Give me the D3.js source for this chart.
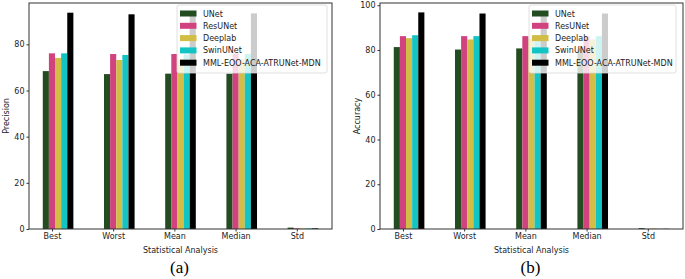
<!DOCTYPE html>
<html>
<head>
<meta charset="utf-8">
<script src="https://cdn.jsdelivr.net/npm/d3@7"></script>
<style>
  body { margin: 0; background: #fff; }
  svg { display: block; }
</style>
</head>
<body>
<div id="chart"></div>
<script>
/* ── Data ── */
const categories = ["Best", "Worst", "Mean", "Median", "Std"];
const models = ["UNet", "ResUNet", "Deeplab", "SwinUNet", "MML-EOO-ACA-ATRUNet-MDN"];
const colors = ["#234d20", "#d1437f", "#d2bd46", "#12c4c4", "#000000"];

// precision[model][category]
const precision = [
  [68.4, 67.1, 67.3, 67.3, 0.6],
  [76.1, 75.8, 75.8, 76.0, 0.3],
  [74.1, 73.2, 73.5, 73.5, 0.3],
  [76.1, 75.4, 75.6, 75.8, 0.3],
  [93.7, 93.0, 93.2, 93.4, 0.3]
];
// accuracy[model][category]
const accuracy = [
  [81.3, 80.2, 80.7, 80.7, 0.4],
  [86.2, 86.2, 86.2, 86.0, 0.1],
  [85.3, 84.7, 85.0, 84.7, 0.3],
  [86.6, 86.2, 86.3, 86.2, 0.1],
  [96.8, 96.3, 96.4, 96.3, 0.1]
];
const yTicks = [0, 20, 40, 60, 80, 100];

const W = 685, H = 279;
const svg = d3.select("#chart").append("svg")
  .attr("width", W).attr("height", H)
  .style("font-family", "'DejaVu Sans', sans-serif");

const barW = 0.1;

function panel(opts) {
  const { data, left, right, top, bottom, yMax, yLabel, caption } = opts;
  const g = svg.append("g");

  const x = d3.scaleLinear().domain([-0.275, 4.675]).range([left, right]);
  const y = d3.scaleLinear().domain([0, yMax]).range([bottom, top]);

  /* bars */
  data.forEach((vals, j) => {
    g.selectAll(null)
      .data(vals)
      .enter().append("rect")
      .attr("x", (d, i) => x(i + j * barW - barW / 2))
      .attr("width", x(barW) - x(0))
      .attr("y", d => y(d))
      .attr("height", d => y(0) - y(d))
      .attr("fill", colors[j]);
  });

  /* axes */
  const xAxis = d3.axisBottom(x)
    .tickValues(categories.map((c, i) => i + barW))
    .tickFormat((d, i) => categories[i])
    .tickSize(2.5).tickPadding(2);
  const yAxis = d3.axisLeft(y)
    .tickValues(yTicks.filter(t => t <= yMax))
    .tickSize(2.5).tickPadding(2);

  const gx = g.append("g").attr("transform", `translate(0,${bottom})`).call(xAxis);
  const gy = g.append("g").attr("transform", `translate(${left},0)`).call(yAxis);
  [gx, gy].forEach(a => {
    a.select(".domain").remove();
    a.selectAll("line").attr("stroke", "#333");
    a.selectAll("text").attr("fill", "#222").style("font-size", "8px").style("font-family", "'DejaVu Sans', sans-serif");
  });

  /* frame */
  g.append("rect")
    .attr("x", left).attr("y", top)
    .attr("width", right - left).attr("height", bottom - top)
    .attr("fill", "none").attr("stroke", "#333").attr("stroke-width", 1);

  /* labels */
  g.append("text")
    .attr("x", (left + right) / 2).attr("y", bottom + 24)
    .attr("text-anchor", "middle")
    .style("font-size", "8px").attr("fill", "#222")
    .text("Statistical Analysis");
  g.append("text")
    .attr("transform", `translate(${left - 20},${(top + bottom) / 2}) rotate(-90)`)
    .attr("text-anchor", "middle")
    .style("font-size", "8px").attr("fill", "#222")
    .text(yLabel);
  g.append("text")
    .attr("x", (left + right) / 2 - 1).attr("y", 273)
    .attr("text-anchor", "middle")
    .style("font-family", "'Liberation Serif', 'Times New Roman', serif")
    .style("font-size", "17px").attr("fill", "#000")
    .text(caption);

  /* legend */
  const lg = g.append("g").attr("transform", `translate(${opts.legX},${top + 2})`);
  lg.append("rect")
    .attr("x", 0).attr("y", 0)
    .attr("width", opts.legW).attr("height", 68)
    .attr("rx", 2)
    .attr("fill", "#fff").attr("fill-opacity", 0.8)
    .attr("stroke", "#d8d8d8").attr("stroke-width", 0.8);
  models.forEach((m, j) => {
    const yy = 8.5 + j * 12.3;
    lg.append("rect")
      .attr("x", 3).attr("y", yy - 3)
      .attr("width", 16.5).attr("height", 6)
      .attr("fill", colors[j]);
    lg.append("text")
      .attr("x", 26).attr("y", yy + 3)
      .style("font-size", "8px").attr("fill", "#222")
      .text(m);
  });
}

panel({
  data: precision, left: 29, right: 332, top: 3, bottom: 229,
  yMax: 97.9, yLabel: "Precision", caption: "(a)", legX: 177, legW: 150
});
panel({
  data: accuracy, left: 380, right: 683, top: 3, bottom: 229,
  yMax: 101, yLabel: "Accuracy", caption: "(b)", legX: 529, legW: 147
});
</script>
</body>
</html>
